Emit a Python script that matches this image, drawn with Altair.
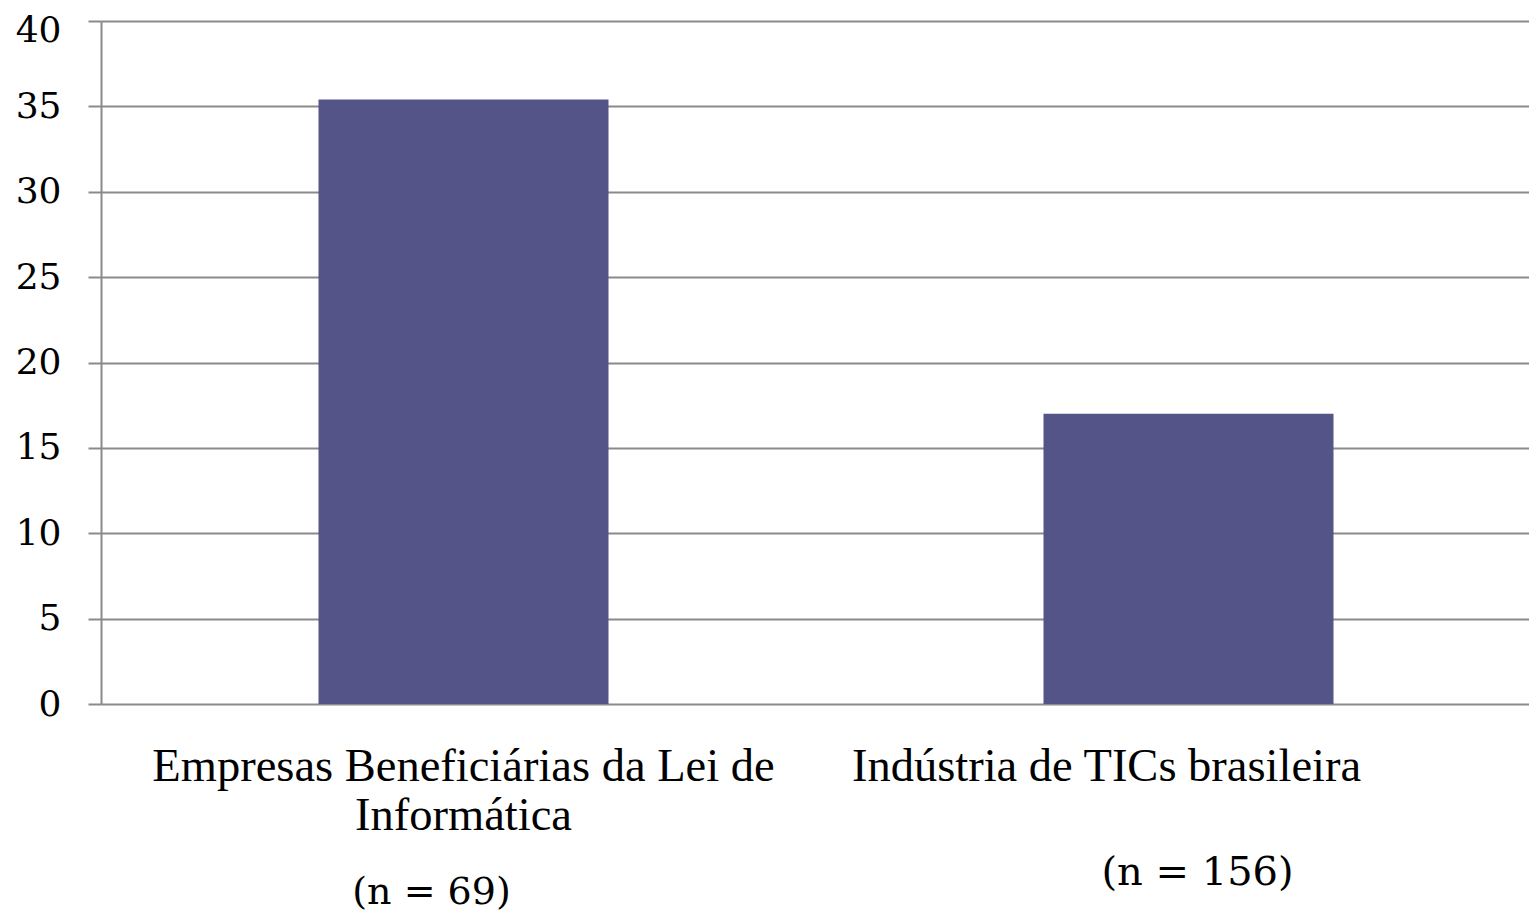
import altair as alt
import pandas as pd

categories = ["Empresas Beneficiárias da Lei de Informática", "Indústria de TICs brasileira"]
values = [35.4, 17.0]
label_lines = [["Empresas Beneficiárias da Lei de", "Informática"], ["Indústria de TICs brasileira"]]
n_labels = ["(n = 69)", "(n = 156)"]
y_ticks = [0, 5, 10, 15, 20, 25, 30, 35, 40]

bars_df = pd.DataFrame({"cat": categories, "value": values})

rows = []
for i, cat in enumerate(categories):
    for j, line in enumerate(label_lines[i]):
        rows.append({"cat": cat, "text": line, "key": f"{i}-{j}"})
    rows.append({"cat": cat, "text": n_labels[i], "key": f"{i}-n"})
text_df = pd.DataFrame(rows)

W, H = 1428, 683
GRAY = "#8a8a8a"
BAR = "#545488"
x_scale = alt.Scale(domain=categories, range=[0, 1450], paddingInner=0, paddingOuter=0)

bars = alt.Chart(bars_df).mark_bar(color=BAR, width=alt.RelativeBandSize(0.4)).encode(
    x=alt.X("cat:N", scale=x_scale, sort=categories,
            axis=alt.Axis(labels=False, title=None, bandPosition=0, tickSize=12,
                          tickColor=GRAY, tickWidth=2, domainColor=GRAY,
                          domainWidth=2, grid=False)),
    y=alt.Y("value:Q", scale=alt.Scale(domain=[0, 40], nice=False),
            axis=alt.Axis(values=y_ticks, title=None, grid=True, gridColor=GRAY,
                          gridWidth=2, tickSize=13, tickColor=GRAY, tickWidth=2,
                          domainColor=GRAY, domainWidth=2, labelFont="DejaVu Serif",
                          labelFontSize=36, labelColor="black", labelPadding=27,
                          labelOffset={"condition": {"test": "datum.value == 40", "value": 9},
                                       "value": 0})),
)

# label placement: key -> (dx, offset below plot bottom, font, size)
specs = {
    "0-0": (0, 63, "Liberation Serif", 46.5),
    "0-1": (0, 112, "Liberation Serif", 46.5),
    "0-n": (-32, 189, "DejaVu Serif", 38),
    "1-0": (-82, 63, "Liberation Serif", 46.5),
    "1-n": (9, 169, "DejaVu Serif", 40),
}

layers = [bars]
for key, (dx, off, font, size) in specs.items():
    layers.append(
        alt.Chart(text_df)
        .transform_filter(alt.datum.key == key)
        .mark_text(font=font, fontSize=size, dx=dx, align="center",
                   baseline="middle", color="black")
        .encode(
            x=alt.X("cat:N", scale=x_scale, sort=categories, axis=None),
            y=alt.value(H + off),
            text="text:N",
        )
    )

chart = (
    alt.layer(*layers)
    .properties(
        width=W,
        height=H,
        padding={"left": 93, "top": 13, "right": 0, "bottom": 210},
        autosize=alt.AutoSizeParams(type="none"),
    )
    .configure_view(stroke=None)
)

chart.save("out.html", embed_options={"renderer": "svg", "actions": False})
